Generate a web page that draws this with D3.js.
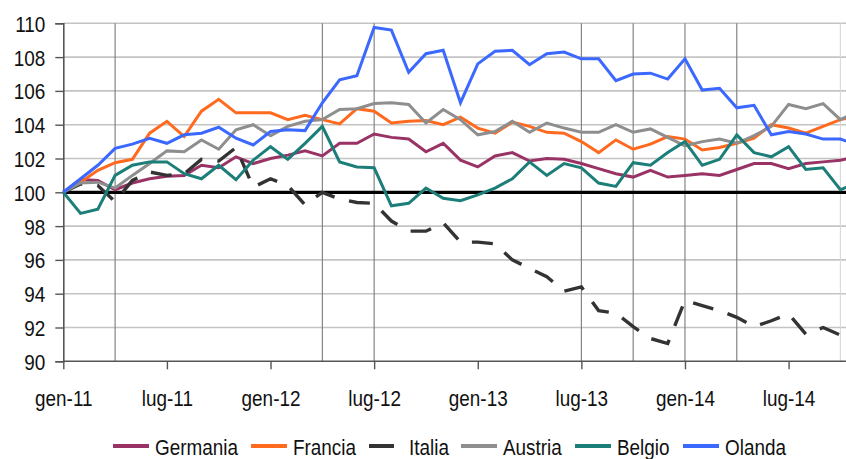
<!DOCTYPE html>
<html>
<head>
<meta charset="utf-8">
<script src="https://cdn.jsdelivr.net/npm/d3@7"></script>
<style>
  html, body { margin: 0; padding: 0; background: #fff; }
  svg { display: block; }
  text { font-family: "Liberation Sans", Arial, sans-serif; fill: #111; }
</style>
</head>
<body>
<svg id="chart" width="846" height="459"></svg>
<script>
// ---- data (monthly index, gen-11 = 100) ----
const months = d3.range(0, 47); // 0 = gen-11 ... 45 = ott-14, 46 partially visible
const tickMonths = [0, 6, 12, 18, 24, 30, 36, 42];
const tickLabels = ["gen-11", "lug-11", "gen-12", "lug-12", "gen-13", "lug-13", "gen-14", "lug-14"];
const gridMonths = [3, 15, 18, 30, 33, 36, 39, 45];
const yTicks = [90, 92, 94, 96, 98, 100, 102, 104, 106, 108, 110];

const germania = [100, 100.75, 100.7, 100.15, 100.55, 100.8, 100.95, 101.0, 101.6, 101.45,
  102.1, 101.7, 102.0, 102.2, 102.45, 102.15, 102.9, 102.9, 103.45, 103.25,
  103.15, 102.4, 102.9, 101.9, 101.5, 102.15, 102.35, 101.85, 102.0, 101.95,
  101.7, 101.4, 101.1, 100.9, 101.3, 100.9, 101.0, 101.1, 101.0, 101.35,
  101.7, 101.7, 101.4, 101.7, 101.8, 101.9, 102.1];
const francia = [100, 100.6, 101.3, 101.75, 101.95, 103.5, 104.2, 103.3, 104.8, 105.5,
  104.7, 104.7, 104.7, 104.3, 104.55, 104.3, 104.05, 104.95, 104.8, 104.1,
  104.2, 104.25, 104.0, 104.45, 103.8, 103.5, 104.15, 103.9, 103.55, 103.5,
  103.0, 102.35, 103.1, 102.55, 102.85, 103.3, 103.15, 102.5, 102.65, 102.9,
  103.2, 104.0, 103.8, 103.5, 103.9, 104.3, 104.5];
const italia = [100, 100.5, 100.4, 99.45, 100.7, 101.2, 101.0, 101.1, 101.95, 101.85,
  102.65, 100.3, 100.8, 100.4, 99.25, 100.0, 99.6, 99.4, 99.35, 98.3,
  97.7, 97.7, 98.2, 97.05, 97.05, 96.95, 96.0, 95.5, 95.0, 94.15,
  94.4, 93.0, 92.85, 92.05, 91.35, 91.05, 93.6, 93.3, 93.0, 92.6,
  92.05, 92.4, 92.8, 91.6, 92.0, 91.55, 91.3];
const austria = [100, 100.55, 100.6, 100.25, 101.0, 101.7, 102.45, 102.4, 103.1, 102.55,
  103.7, 104.0, 103.35, 103.9, 104.2, 104.3, 104.9, 104.95, 105.25, 105.3,
  105.2, 104.1, 104.9, 104.3, 103.4, 103.6, 104.2, 103.55, 104.1, 103.8,
  103.55, 103.55, 104.0, 103.55, 103.75, 103.25, 102.75, 103.0, 103.15, 102.9,
  103.35, 103.9, 105.2, 104.95, 105.25, 104.3, 104.8];
const belgio = [100, 98.75, 99.0, 101.0, 101.6, 101.8, 101.8, 101.1, 100.8, 101.6,
  100.75, 101.9, 102.7, 101.95, 102.9, 103.9, 101.8, 101.5, 101.45, 99.2,
  99.35, 100.25, 99.65, 99.5, 99.85, 100.25, 100.8, 101.8, 101.0, 101.7,
  101.45, 100.55, 100.35, 101.75, 101.6, 102.35, 103.0, 101.6, 101.95, 103.4,
  102.35, 102.1, 102.7, 101.35, 101.45, 100.15, 100.6];
const olanda = [100, 100.8, 101.6, 102.6, 102.85, 103.2, 102.9, 103.4, 103.5, 103.85,
  103.2, 102.8, 103.6, 103.7, 103.65, 105.3, 106.65, 106.9, 109.75, 109.6,
  107.1, 108.2, 108.4, 105.3, 107.6, 108.35, 108.4, 107.55, 108.2, 108.3,
  107.9, 107.9, 106.6, 107.0, 107.05, 106.7, 107.9, 106.05, 106.15, 105.0,
  105.15, 103.4, 103.6, 103.45, 103.15, 103.15, 102.8];

const seriesNames = ["Germania", "Francia", "Italia", "Austria", "Belgio", "Olanda"];
const seriesValues = [germania, francia, italia, austria, belgio, olanda];
const seriesColors = ["#993366", "#FF6A1F", "#333333", "#8E8E8E", "#1C7E78", "#3B68FF"];

// ---- layout ----
const svg = d3.select("#chart");
const W = 846, H = 459;
const x = d3.scaleLinear().domain([0, 45]).range([63.3, 840.4]);
const y = d3.scaleLinear().domain([90, 110]).range([361.3, 23.3]);
const FS = 22, SX = 0.86;

const g = svg.append("g");

// horizontal gridlines
g.append("g").selectAll("line").data(yTicks.filter(v => v !== 90 && v !== 100)).join("line")
  .attr("x1", x(0)).attr("x2", W)
  .attr("y1", d => y(d)).attr("y2", d => y(d))
  .attr("stroke", "#c4c4c4").attr("stroke-width", 1.6);

// vertical gridlines
g.append("g").selectAll("line").data(gridMonths).join("line")
  .attr("x1", d => x(d)).attr("x2", d => x(d))
  .attr("y1", y(110)).attr("y2", y(90))
  .attr("stroke", d => d === 45 ? "#d8d8d8" : "#7a7a7a").attr("stroke-width", 1.1);

// y axis
const yAxis = d3.axisLeft(y).tickValues(yTicks).tickSize(8).tickFormat(d3.format("d"));
const ya = g.append("g").attr("transform", `translate(${x(0)},0)`).call(yAxis);
ya.select(".domain").attr("stroke", "#555").attr("stroke-width", 1.6);
ya.selectAll(".tick line").attr("stroke", "#555").attr("stroke-width", 1.4);
ya.selectAll(".tick text").remove();
ya.selectAll(".tick").append("text")
  .attr("transform", `translate(-18,0) scale(${SX},1)`)
  .attr("text-anchor", "end").attr("dy", "0.36em")
  .style("font-size", FS + "px")
  .text(d => d);

// x axis
const xAxis = d3.axisBottom(x).tickValues(tickMonths).tickSize(8).tickFormat("");
const xa = g.append("g").attr("transform", `translate(0,${y(90)})`).call(xAxis);
xa.select(".domain").attr("d", `M${x(0)},0H${W}`).attr("stroke", "#555").attr("stroke-width", 1.6);
xa.selectAll(".tick line").attr("stroke", "#555").attr("stroke-width", 1.4);
xa.selectAll(".tick").append("text")
  .attr("transform", `translate(0,${406 - y(90)}) scale(${SX},1)`)
  .attr("text-anchor", "middle")
  .style("font-size", FS + "px")
  .text((d, i) => tickLabels[i]);

// 100 reference line
g.append("line")
  .attr("x1", x(0)).attr("x2", W)
  .attr("y1", y(100)).attr("y2", y(100))
  .attr("stroke", "#000").attr("stroke-width", 3.2);

// series
const line = d3.line().x((d, i) => x(months[i])).y(d => y(d));
seriesValues.forEach((vals, k) => {
  g.append("path")
    .datum(vals)
    .attr("d", line)
    .attr("fill", "none")
    .attr("stroke", seriesColors[k])
    .attr("stroke-width", seriesNames[k] === "Italia" ? 3.4 : 3)
    .attr("stroke-linejoin", "miter")
    .attr("stroke-dasharray", seriesNames[k] === "Italia" ? "21,15" : null);
});

// legend
const legendX = [113, 251, 369, 461, 575, 683];
const leg = svg.append("g");
seriesNames.forEach((name, k) => {
  const lx = legendX[k];
  const len = name === "Italia" ? 25 : 36;
  leg.append("line")
    .attr("x1", lx).attr("x2", lx + len)
    .attr("y1", 446).attr("y2", 446)
    .attr("stroke", seriesColors[k]).attr("stroke-width", 4);
  leg.append("text")
    .attr("transform", `translate(${name === "Italia" ? lx + 40 : lx + 42},455) scale(${SX},1)`)
    .style("font-size", FS + "px")
    .text(name);
});
</script>
</body>
</html>
